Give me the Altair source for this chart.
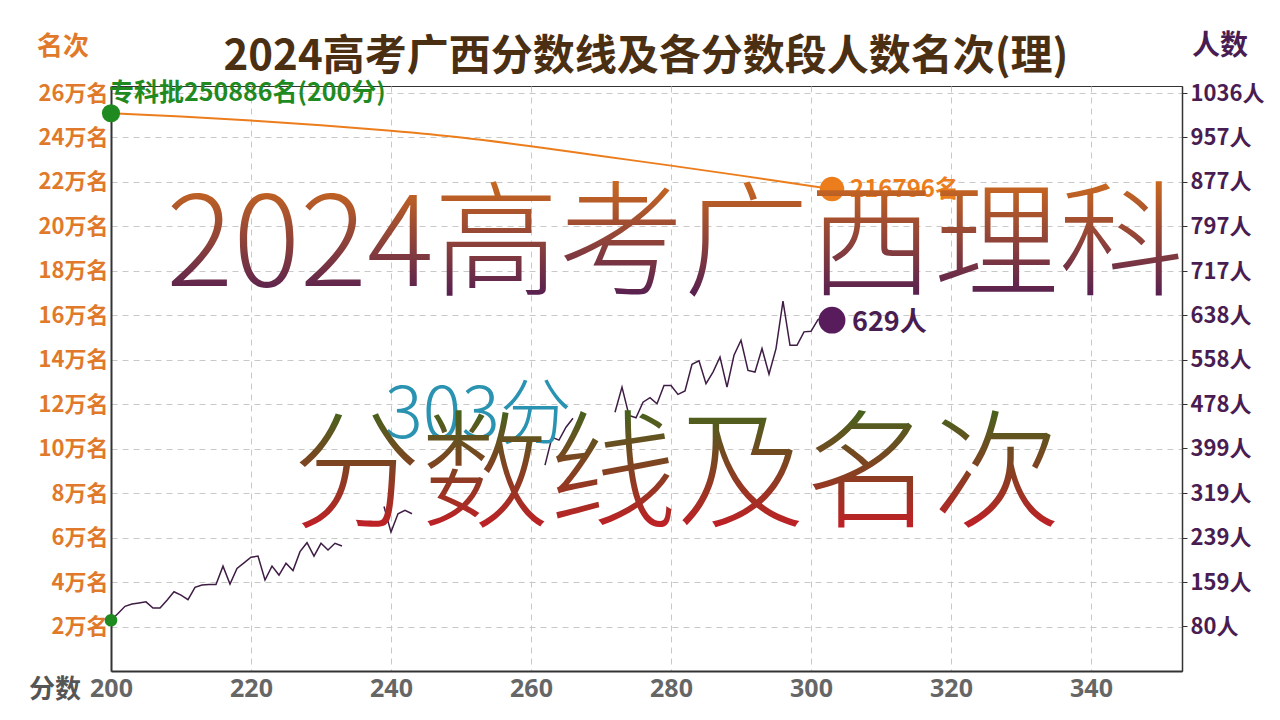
import altair as alt
import pandas as pd

# ---------------- data ----------------
x_ticks = [200, 220, 240, 260, 280, 300, 320, 340]
rank_ticks = [20000, 40000, 60000, 80000, 100000, 120000, 140000, 160000,
              180000, 200000, 220000, 240000, 260000]
count_tick_labels = [80, 159, 239, 319, 399, 478, 558, 638, 717, 797, 877, 957, 1036]

# cumulative rank (名次)
rank_scores = [200, 210, 220, 230, 240, 250, 260, 270, 280, 290, 300, 303]
rank_values = [250886, 249390, 247590, 245490, 242990, 239960, 236060, 231660,
               227330, 222830, 218130, 216796]

# number of students per score (人数); visible pieces of the purple line
seg1_scores = list(range(200, 234))
seg1_counts = [91, 103, 116, 120, 122, 124, 113, 113, 127, 142,
               136, 128, 150, 154, 155, 155, 188, 156, 184, 194,
               204, 206, 163, 188, 172, 193, 180, 214, 230, 206,
               229, 217, 229, 224]
seg2_scores = list(range(239, 244))
seg2_counts = [295, 249, 282, 288, 282]
seg3_scores = list(range(262, 267))
seg3_counts = [369, 419, 414, 437, 453]
seg4_scores = list(range(272, 304))
seg4_counts = [464, 509, 458, 454, 482, 490, 479, 512, 512, 496,
               502, 550, 556, 515, 536, 563, 509, 566, 593, 539,
               536, 578, 532, 578, 663, 584, 584, 608, 609, 630,
               634, 629]

start_score, start_rank, start_count = 200, 250886, 91
end_score, end_rank, end_count = 303, 216796, 629

# ---------------- frames ----------------
rank_df = pd.DataFrame({"score": rank_scores, "rank": rank_values})
rows = []
for seg, (ss, cc) in enumerate([(seg1_scores, seg1_counts), (seg2_scores, seg2_counts),
                                (seg3_scores, seg3_counts), (seg4_scores, seg4_counts)]):
    for s, c in zip(ss, cc):
        rows.append({"score": s, "count": c, "seg": seg})
count_df = pd.DataFrame(rows)

rank_pts = pd.DataFrame({"score": [start_score, end_score], "rank": [start_rank, end_rank],
                         "kind": ["start", "end"]})
count_pts = pd.DataFrame({"score": [start_score, end_score], "count": [start_count, end_count],
                          "kind": ["start", "end"]})

FONT = "Noto Sans CJK SC"
ORANGE = "#ec7d1c"
ORANGE_TXT = "#e07a2a"
PURPLE = "#3e1c44"
PURPLE_DOT = "#581c5c"
PURPLE_TXT = "#4a1d52"
GREEN = "#1f8a1f"

x_enc = alt.X("score:Q",
              scale=alt.Scale(domain=[200, 353], nice=False, zero=False),
              axis=alt.Axis(values=x_ticks, title=None, grid=True, gridDash=[6, 5],
                            gridColor="#c8c8c8", gridWidth=1,
                            labelFont="Noto Sans", labelFontSize=25,
                            labelFontWeight="bold", labelColor="#666666",
                            labelPadding=5, domainColor="#333333", domainWidth=2,
                            ticks=False, labelFlush=False))

y_rank = alt.Y("rank:Q",
               scale=alt.Scale(domain=[0, 263150], nice=False, zero=True),
               axis=alt.Axis(values=rank_ticks, title=None, grid=True, gridDash=[6, 5],
                             gridColor="#c8c8c8", gridWidth=1,
                             labelExpr="datum.value / 10000 + '万名'",
                             labelFont=FONT, labelFontSize=22, labelFontWeight="bold",
                             labelColor=ORANGE_TXT, labelPadding=3,
                             domainColor="#333333", domainWidth=2, ticks=False))

y_count = alt.Y("count:Q",
                scale=alt.Scale(domain=[0, 1048.8], nice=False, zero=True),
                axis=alt.Axis(values=count_tick_labels, orient="right", title=None, grid=False,
                              labelExpr="datum.value + '人'",
                              labelFont=FONT, labelFontSize=22, labelFontWeight="bold",
                              labelColor=PURPLE_TXT, labelPadding=3,
                              domainColor="#333333", domainWidth=1.5,
                              tickColor="#333333", tickSize=5))

# ---------------- rank (left axis) ----------------
rank_line = alt.Chart(rank_df).mark_line(color=ORANGE, strokeWidth=2,
                                         interpolate="monotone").encode(x=x_enc, y=y_rank)
rank_start = alt.Chart(rank_pts).transform_filter("datum.kind == 'start'").mark_circle(
    color=GREEN, opacity=1, size=330).encode(x="score:Q", y="rank:Q")
rank_end = alt.Chart(rank_pts).transform_filter("datum.kind == 'end'").mark_circle(
    color=ORANGE, opacity=1, size=600).encode(x="score:Q", y="rank:Q")
rank_start_lbl = alt.Chart(rank_pts).transform_filter("datum.kind == 'start'").mark_text(
    align="left", baseline="middle", dx=-2, dy=-20, font=FONT, fontSize=25,
    fontWeight="bold", color=GREEN).encode(
    x="score:Q", y="rank:Q",
    text=alt.value("专科批250886名(200分)"))
rank_end_lbl = alt.Chart(rank_pts).transform_filter("datum.kind == 'end'").mark_text(
    align="left", baseline="middle", dx=18, dy=1, font=FONT, fontSize=24,
    fontWeight="bold", color=ORANGE).encode(
    x="score:Q", y="rank:Q", text=alt.value("216796名"))
left = alt.layer(rank_line, rank_start, rank_end, rank_start_lbl, rank_end_lbl)

# ---------------- count (right axis) ----------------
count_line = alt.Chart(count_df).mark_line(color=PURPLE, strokeWidth=1.5).encode(
    x="score:Q", y=y_count, detail="seg:N")
count_start = alt.Chart(count_pts).transform_filter("datum.kind == 'start'").mark_circle(
    color=GREEN, opacity=1, size=160).encode(x="score:Q", y="count:Q")
count_end = alt.Chart(count_pts).transform_filter("datum.kind == 'end'").mark_circle(
    color=PURPLE_DOT, opacity=1, size=720).encode(x="score:Q", y="count:Q")
count_end_lbl = alt.Chart(count_pts).transform_filter("datum.kind == 'end'").mark_text(
    align="left", baseline="middle", dx=20, dy=3, font=FONT, fontSize=27,
    fontWeight="bold", color=PURPLE_TXT).encode(
    x="score:Q", y="count:Q", text=alt.value("629人"))
right = alt.layer(count_line, count_start, count_end, count_end_lbl)

# ---------------- titles and overlay captions ----------------
def label(txt, x, y, size, color, weight="bold", font=FONT, align="center"):
    return alt.Chart(pd.DataFrame({"t": [txt]})).mark_text(
        align=align, baseline="middle", font=font, fontSize=size,
        fontWeight=weight, color=color).encode(
        x=alt.value(x), y=alt.value(y), text="t:N")

def grad_label(txt, x, y, size, c_top, c_bot):
    g = alt.LinearGradient(gradient="linear",
                           stops=[alt.GradientStop(color=c_top, offset=0),
                                  alt.GradientStop(color=c_bot, offset=1)],
                           x1=0, x2=0, y1=0, y2=1)
    return alt.Chart(pd.DataFrame({"t": [txt]})).mark_text(
        align="center", baseline="middle", font=FONT, fontSize=size,
        fontWeight=300, fill=g).encode(
        x=alt.value(x), y=alt.value(y), text="t:N")

title = label("2024高考广西分数线及各分数段人数名次(理)", 535, -29, 42, "#4a2f12")
lt = label("名次", -48, -39, 26, ORANGE_TXT)
rt = label("人数", 1109, -39, 28, PURPLE_TXT)
bt = label("分数", -56, 604, 26, "#555555")

cap303 = label("303分", 367, 330, 72, "#2a93b1", weight=300)
cap1 = grad_label("2024高考广西理科", 564, 162, 125, "#f3820e", "#3d0f5c")
cap2 = grad_label("分数线及名次", 566, 394, 128, "#1c7a1a", "#dd1028")

chart = alt.layer(left, right, title, lt, rt, bt, cap303, cap1, cap2).resolve_scale(
    y="independent"
).properties(
    width=1071, height=585,
    autosize=alt.AutoSizeParams(type="none"),
    padding={"left": 111, "top": 86, "right": 98, "bottom": 49},
    background="white",
).configure_view(stroke="#333333", strokeWidth=1)

chart.save("out.html", embed_options={"renderer": "svg", "actions": False})
